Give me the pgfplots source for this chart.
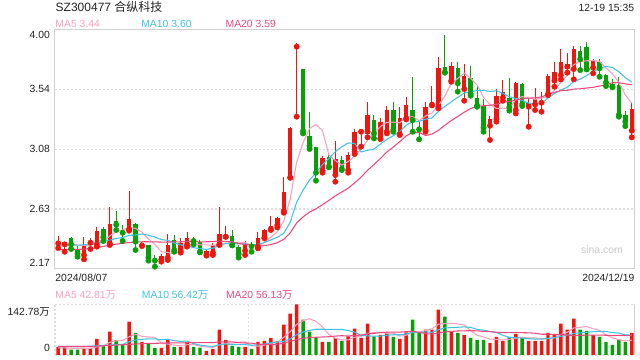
\documentclass[border=0pt]{standalone}
\usepackage{pgfplots}
\pgfplotsset{compat=1.18}
\usepackage{pgfplotstable}
\usepackage{fontspec}
\setmainfont{Liberation Sans}
\newfontfamily\cjk{Noto Sans CJK SC}

\definecolor{upred}{RGB}{240,22,16}
\definecolor{downgreen}{RGB}{8,160,8}
\definecolor{ma5c}{RGB}{248,160,192}
\definecolor{ma10c}{RGB}{64,194,226}
\definecolor{ma20c}{RGB}{236,72,124}
\definecolor{bord}{RGB}{208,208,208}
\definecolor{gridc}{RGB}{222,222,222}
\definecolor{txt}{RGB}{34,34,34}

\pgfplotstableread{
i o h l c v
0 2.366 2.425 2.330 2.379 21.9
1 2.358 2.379 2.302 2.376 21.9
4 2.277 2.412 2.244 2.348 20.0
5 2.371 2.404 2.323 2.379 20.0
6 2.358 2.493 2.341 2.460 45.7
8 2.366 2.646 2.353 2.516 65.7
11 2.473 2.766 2.463 2.552 94.2
13 2.348 2.380 2.345 2.369 37.1
16 2.244 2.282 2.226 2.269 20.0
17 2.257 2.435 2.239 2.353 43.8
19 2.307 2.404 2.295 2.366 22.8
20 2.358 2.455 2.341 2.407 36.2
23 2.280 2.315 2.272 2.310 11.4
24 2.295 2.366 2.277 2.353 17.1
25 2.358 2.646 2.353 2.437 71.4
26 2.416 2.499 2.416 2.422 42.8
29 2.310 2.384 2.277 2.358 22.8
31 2.340 2.455 2.328 2.404 37.1
32 2.412 2.475 2.404 2.468 40.0
33 2.475 2.575 2.468 2.498 48.6
34 2.506 2.570 2.488 2.557 39.0
35 2.613 2.875 2.600 2.756 85.7
36 2.868 3.257 2.868 3.250 117.1
37 3.869 3.894 3.334 3.881 142.8
41 2.919 3.033 2.906 3.018 37.1
43 2.888 3.148 2.837 3.010 47.6
45 2.926 3.066 2.906 3.041 52.4
46 3.066 3.240 3.049 3.219 74.3
47 3.219 3.237 3.105 3.229 48.6
48 3.219 3.448 3.176 3.347 88.5
50 3.168 3.321 3.163 3.290 57.1
51 3.219 3.415 3.206 3.385 60.9
53 3.199 3.405 3.194 3.321 45.7
54 3.321 3.487 3.313 3.423 63.8
57 3.232 3.448 3.219 3.405 71.4
58 3.426 3.568 3.420 3.438 71.4
59 3.410 3.792 3.397 3.708 128.5
61 3.609 3.754 3.601 3.721 67.6
63 3.545 3.736 3.456 3.645 57.1
67 3.265 3.339 3.156 3.316 34.3
68 3.316 3.543 3.296 3.492 51.4
69 3.479 3.614 3.456 3.520 40.0
71 3.385 3.601 3.359 3.594 60.0
73 3.410 3.474 3.257 3.436 40.0
74 3.428 3.555 3.385 3.469 40.0
75 3.441 3.525 3.372 3.448 40.0
76 3.507 3.660 3.499 3.645 62.8
77 3.609 3.749 3.563 3.673 57.1
78 3.652 3.848 3.619 3.749 88.5
79 3.716 3.818 3.670 3.736 71.4
80 3.698 3.876 3.619 3.851 102.8
83 3.708 3.772 3.665 3.759 56.2
89 3.227 3.448 3.176 3.390 62.8
}\up

\pgfplotstableread{
i o h l c v
2 2.407 2.417 2.323 2.358 15.2
3 2.323 2.348 2.264 2.290 15.2
7 2.476 2.493 2.384 2.412 27.6
9 2.537 2.616 2.468 2.509 41.9
10 2.453 2.506 2.384 2.447 27.6
12 2.516 2.524 2.315 2.379 62.8
14 2.353 2.356 2.234 2.257 33.3
15 2.257 2.277 2.188 2.234 20.0
18 2.392 2.430 2.302 2.315 22.8
21 2.392 2.417 2.358 2.384 22.8
22 2.379 2.392 2.297 2.302 21.0
27 2.422 2.468 2.351 2.351 25.7
28 2.338 2.353 2.257 2.285 22.8
30 2.349 2.374 2.302 2.343 17.1
38 3.698 3.698 3.206 3.224 100.0
39 3.186 3.369 3.087 3.110 65.7
40 3.102 3.102 2.845 2.906 50.5
42 3.028 3.041 2.947 2.952 37.1
44 3.003 3.036 2.926 2.934 40.0
49 3.308 3.347 3.168 3.206 52.4
52 3.385 3.448 3.219 3.232 51.4
55 3.385 3.639 3.219 3.308 100.0
56 3.252 3.296 3.161 3.237 63.8
60 3.711 3.958 3.670 3.673 108.5
62 3.703 3.754 3.525 3.589 62.8
64 3.627 3.723 3.494 3.507 48.6
65 3.474 3.576 3.410 3.418 42.8
66 3.415 3.466 3.219 3.250 42.8
70 3.474 3.627 3.380 3.405 51.4
72 3.583 3.589 3.415 3.431 48.6
81 3.836 3.876 3.690 3.772 71.4
82 3.864 3.907 3.695 3.698 68.5
84 3.754 3.772 3.639 3.703 51.4
85 3.652 3.657 3.568 3.596 37.1
86 3.583 3.619 3.558 3.563 28.6
87 3.576 3.639 3.334 3.347 43.8
88 3.347 3.377 3.262 3.296 37.1
}\down

\pgfplotstableread{
i m5 m10 m20 v5 v10 v20
0 2.350 2.352 2.318 20.0 24.0 24.0
1 2.355 2.352 2.318 20.0 24.0 24.0
2 2.360 2.353 2.320 19.0 24.0 24.0
3 2.352 2.352 2.320 18.5 24.0 24.0
4 2.350 2.355 2.322 18.8 24.0 24.0
5 2.350 2.360 2.326 18.5 25.0 24.0
6 2.367 2.370 2.333 23.2 26.0 25.0
7 2.378 2.380 2.342 25.7 27.0 26.0
8 2.423 2.390 2.352 35.8 28.0 27.0
9 2.455 2.403 2.360 40.2 29.5 28.0
10 2.469 2.410 2.366 41.7 30.1 29.0
11 2.487 2.427 2.372 51.4 37.3 30.0
12 2.481 2.429 2.376 58.4 42.1 31.0
13 2.451 2.437 2.378 52.7 44.3 32.0
14 2.401 2.428 2.378 51.0 45.6 33.0
15 2.358 2.414 2.377 49.5 45.6 33.0
16 2.302 2.395 2.376 34.6 43.0 33.5
17 2.296 2.389 2.376 30.8 44.6 34.0
18 2.286 2.369 2.377 28.0 40.4 34.0
19 2.307 2.354 2.378 25.9 38.4 34.0
20 2.342 2.350 2.380 29.1 39.3 34.7
21 2.365 2.333 2.380 29.7 32.2 34.7
22 2.355 2.326 2.377 25.1 28.0 35.0
23 2.354 2.320 2.378 22.8 25.4 34.8
24 2.351 2.329 2.379 21.7 23.8 34.7
25 2.357 2.350 2.382 28.7 28.9 37.3
26 2.365 2.365 2.380 32.7 31.2 37.1
27 2.375 2.365 2.377 33.7 29.4 37.0
28 2.370 2.362 2.365 36.0 29.4 34.9
29 2.371 2.361 2.358 37.1 29.4 33.9
30 2.352 2.355 2.352 26.2 27.5 33.4
31 2.348 2.357 2.345 25.1 28.9 30.5
32 2.372 2.373 2.349 28.0 30.8 29.4
33 2.414 2.392 2.356 33.1 34.5 30.0
34 2.454 2.412 2.371 36.4 36.7 30.3
35 2.537 2.444 2.397 50.1 38.2 33.5
36 2.706 2.527 2.446 66.1 45.6 38.4
37 2.988 2.680 2.522 86.6 57.3 43.4
38 3.134 2.774 2.568 96.9 65.0 47.2
39 3.244 2.849 2.605 102.3 69.3 49.4
40 3.274 2.905 2.630 95.2 72.7 50.1
41 3.228 2.967 2.662 79.2 72.7 50.8
42 3.042 3.015 2.694 58.1 72.4 51.6
43 2.999 3.066 2.729 47.6 72.3 53.4
44 2.964 3.104 2.758 42.5 72.4 54.5
45 2.991 3.133 2.788 42.8 69.0 53.6
46 3.031 3.130 2.828 50.3 64.8 55.2
47 3.087 3.064 2.872 52.6 55.3 56.3
48 3.154 3.077 2.925 60.8 54.2 59.6
49 3.208 3.086 2.968 63.2 52.9 61.1
50 3.258 3.125 3.015 64.2 53.5 63.1
51 3.291 3.161 3.064 61.5 55.9 64.3
52 3.292 3.189 3.102 62.1 57.3 64.8
53 3.287 3.220 3.143 53.5 57.1 64.7
54 3.330 3.269 3.187 55.8 59.5 65.9
55 3.334 3.296 3.214 64.4 64.3 66.7
56 3.304 3.298 3.214 64.9 63.2 64.0
57 3.339 3.315 3.190 68.9 65.5 60.4
58 3.362 3.325 3.201 74.1 63.8 59.0
59 3.419 3.375 3.230 87.0 71.4 62.1
60 3.492 3.413 3.269 88.7 76.5 65.0
61 3.589 3.447 3.304 89.5 77.2 66.6
62 3.626 3.482 3.336 87.8 78.4 67.8
63 3.667 3.515 3.368 84.9 79.5 68.3
64 3.627 3.523 3.396 68.9 78.0 68.7
65 3.576 3.534 3.415 55.8 72.3 68.3
66 3.482 3.535 3.417 50.8 70.2 66.7
67 3.427 3.527 3.421 45.1 66.4 66.0
68 3.397 3.532 3.428 44.0 64.4 64.1
69 3.399 3.513 3.444 42.3 55.6 63.5
70 3.397 3.486 3.450 44.0 49.9 63.2
71 3.465 3.474 3.460 47.4 49.1 63.2
72 3.488 3.458 3.470 50.3 47.7 63.0
73 3.477 3.437 3.476 48.0 46.0 62.7
74 3.467 3.433 3.478 48.0 45.1 61.6
75 3.476 3.436 3.485 45.7 44.9 58.6
76 3.486 3.476 3.506 46.3 46.9 58.5
77 3.534 3.511 3.519 48.0 49.1 57.8
78 3.597 3.537 3.534 57.7 52.8 58.6
79 3.650 3.559 3.536 64.0 56.0 55.8
80 3.731 3.603 3.545 76.5 61.1 55.5
81 3.756 3.621 3.547 78.2 62.3 55.7
82 3.761 3.648 3.553 80.5 64.3 56.0
83 3.763 3.680 3.558 74.1 65.9 55.9
84 3.757 3.703 3.568 70.1 67.0 56.1
85 3.706 3.718 3.577 56.9 66.7 55.8
86 3.664 3.710 3.593 48.4 63.3 55.1
87 3.594 3.677 3.594 43.4 62.0 55.6
88 3.501 3.632 3.585 39.6 56.8 54.8
89 3.438 3.598 3.578 41.9 56.0 56.0
}\ma

\begin{document}
\begin{tikzpicture}[font=\fontsize{7.8}{9}\selectfont, text=txt, every node/.style={inner sep=0pt}]
\path[use as bounding box] (0,0) rectangle (480pt,270pt);

% ---------------- main price panel ----------------
\begin{axis}[
  at={(41.25pt,68.25pt)}, anchor=south west, scale only axis,
  width=435pt, height=179.6pt,
  xmin=-0.5, xmax=89.5, ymin=2.17, ymax=4.00,
  axis line style={draw=bord, line width=0.75pt},
  xtick=\empty,
  ytick={2.6275,3.085,3.5425}, yticklabels={2.63,3.08,3.54},
  major tick length=0pt,
  ymajorgrids,
  grid style={gridc, line width=1.1pt, dash pattern=on 1.5pt off 1.5pt},
  yticklabel style={font=\fontsize{7.8}{9}\selectfont, text=txt, inner sep=0pt, xshift=-3.6pt},
]
% wicks
\addplot[only marks, mark=none, upred, error bars/.cd, y dir=plus, y explicit, error mark=none,
  error bar style={line width=0.75pt, upred}]
  table[x=i, y=l, y error expr=\thisrow{h}-\thisrow{l}] {\up};
\addplot[only marks, mark=none, downgreen, error bars/.cd, y dir=plus, y explicit, error mark=none,
  error bar style={line width=0.75pt, downgreen}]
  table[x=i, y=l, y error expr=\thisrow{h}-\thisrow{l}] {\down};
% bodies
\addplot[only marks, mark=none, upred, error bars/.cd, y dir=plus, y explicit, error mark=none,
  error bar style={line width=3.4pt, upred}]
  table[x=i, y=o, y error expr=\thisrow{c}-\thisrow{o}] {\up};
\addplot[only marks, mark=none, downgreen, error bars/.cd, y dir=plus, y explicit, error mark=none,
  error bar style={line width=3.4pt, downgreen}]
  table[x=i, y=c, y error expr=\thisrow{o}-\thisrow{c}] {\down};
% moving averages
\addplot[ma5c, line width=0.8pt, mark=none, line join=round] table[x=i, y=m5] {\ma};
\addplot[ma10c, line width=0.8pt, mark=none, line join=round] table[x=i, y=m10] {\ma};
\addplot[ma20c, line width=0.8pt, mark=none, line join=round] table[x=i, y=m20] {\ma};
\end{axis}

% ---------------- volume panel ----------------
\begin{axis}[
  at={(41.25pt,3.75pt)}, anchor=south west, scale only axis,
  width=435pt, height=37.9pt,
  xmin=-0.5, xmax=89.5, ymin=0, ymax=142.78,
  axis line style={draw=none},
  xtick={-0.5,29.5,59.5}, xticklabels={,,},
  ytick={0,142.78}, yticklabels={,},
  major tick length=0pt,
  xmajorgrids, ymajorgrids,
  grid style={gridc, line width=1.1pt, dash pattern=on 1.5pt off 1.5pt},
  after end axis/.code={\draw[bord, line width=0.75pt] (rel axis cs:1,0) -- (rel axis cs:1,1);},
]
\addplot[ybar, bar width=2.6pt, bar shift=0pt, fill=upred, draw=none] table[x=i, y=v] {\up};
\addplot[ybar, bar width=2.6pt, bar shift=0pt, fill=downgreen, draw=none] table[x=i, y=v] {\down};
\addplot[ma5c, line width=0.8pt, mark=none, line join=round] table[x=i, y=v5] {\ma};
\addplot[ma10c, line width=0.8pt, mark=none, line join=round] table[x=i, y=v10] {\ma};
\addplot[ma20c, line width=0.8pt, mark=none, line join=round] table[x=i, y=v20] {\ma};
\end{axis}

% ---------------- texts ----------------
\node[anchor=west, font=\fontsize{9}{10}\selectfont] at (41.6pt,264.6pt) {SZ300477 {\cjk 合纵科技}};
\node[anchor=east] at (475.8pt,264.3pt) {12-19 15:35};
\node[anchor=west, text=ma5c] at (41.4pt,252.2pt) {MA5 3.44};
\node[anchor=west, text=ma10c] at (105.8pt,252.2pt) {MA10 3.60};
\node[anchor=west, text=ma20c] at (169pt,252.2pt) {MA20 3.59};
\node[anchor=east] at (37.6pt,244pt) {4.00};
\node[anchor=east] at (37.6pt,73pt) {2.17};
\node[anchor=west] at (41.4pt,61.3pt) {2024/08/07};
\node[anchor=east] at (476pt,61.3pt) {2024/12/19};
\node[text=black!22] at (451.5pt,83pt) {sina.com};
\node[anchor=west, text=ma5c] at (41.4pt,48.7pt) {MA5 42.81{\cjk 万}};
\node[anchor=west, text=ma10c] at (106.2pt,48.7pt) {MA10 56.42{\cjk 万}};
\node[anchor=west, text=ma20c] at (169.3pt,48.7pt) {MA20 56.13{\cjk 万}};
\node[anchor=east] at (37.6pt,36.2pt) {142.78{\cjk 万}};
\node[anchor=east] at (37.6pt,8.8pt) {0};
\end{tikzpicture}
\end{document}
